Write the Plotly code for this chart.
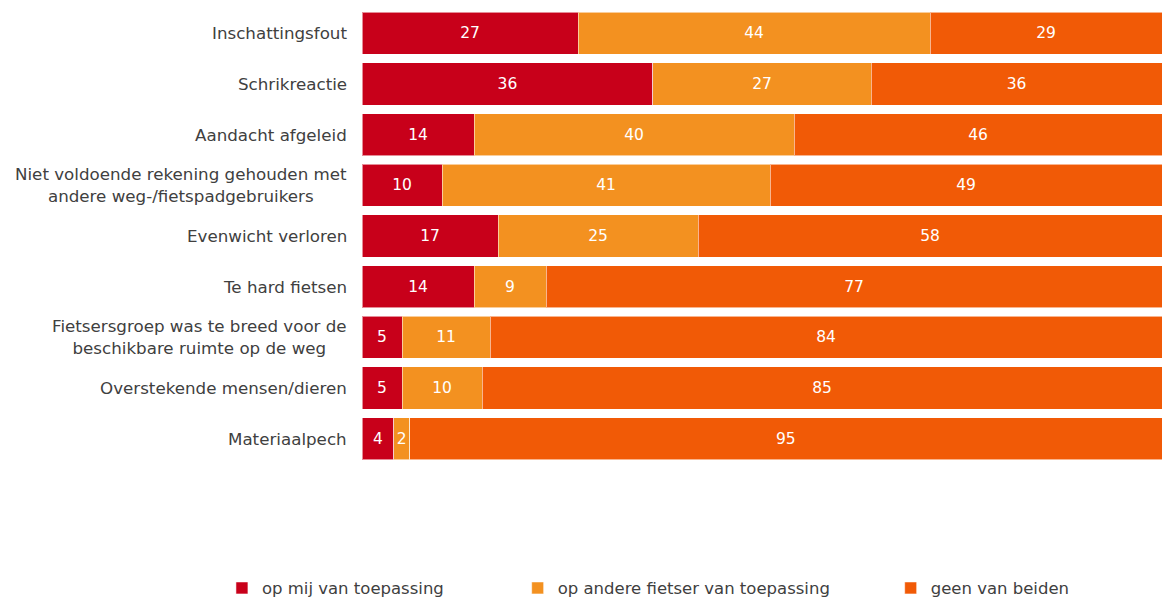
import plotly.graph_objects as go

# Oorzaken van fietsongevallen (percentages per oorzaak)
categories = [
    "Inschattingsfout",
    "Schrikreactie",
    "Aandacht afgeleid",
    "Niet voldoende rekening gehouden met<br>andere weg-/fietspadgebruikers",
    "Evenwicht verloren",
    "Te hard fietsen",
    "Fietsersgroep was te breed voor de<br>beschikbare ruimte op de weg",
    "Overstekende mensen/dieren",
    "Materiaalpech",
]
op_mij = [27, 36, 14, 10, 17, 14, 5, 5, 4]
op_andere = [44, 27, 40, 41, 25, 9, 11, 10, 2]
geen = [29, 36, 46, 49, 58, 77, 84, 85, 95]

series_names = ["op mij van toepassing", "op andere fietser van toepassing", "geen van beiden"]
series_values = [op_mij, op_andere, geen]
colors = ["#C8001A", "#F39120", "#F15A06"]
legend_ids = ["legend", "legend2", "legend3"]
legend_x = [0.191, 0.4455, 0.7665]

FONT = "DejaVu Sans, Verdana, sans-serif"
TEXT_COLOR = "#404040"

fig = go.Figure()
for name, vals, col, lg in zip(series_names, series_values, colors, legend_ids):
    fig.add_trace(go.Bar(
        y=categories,
        x=vals,
        name=name,
        orientation="h",
        marker=dict(color=col, line=dict(color="rgba(255,255,255,0.55)", width=1)),
        text=vals,
        textposition="inside",
        insidetextanchor="middle",
        textangle=0,
        constraintext="none",
        textfont=dict(color="white", size=15.5, family=FONT),
        legend=lg,
        showlegend=True,
        hoverinfo="name+x",
    ))

# Category labels, centred per line and right-aligned against the bars
for cat in categories:
    fig.add_annotation(
        x=0, xref="paper", y=cat, yref="y",
        text=cat, showarrow=False,
        xanchor="right", yanchor="middle", align="center",
        xshift=-13,
        font=dict(family=FONT, size=16.7, color=TEXT_COLOR),
    )

legend_style = dict(
    orientation="h", yanchor="middle", xanchor="left",
    xref="container", yref="container",
    font=dict(family=FONT, size=16.5, color=TEXT_COLOR),
    bgcolor="rgba(0,0,0,0)", itemwidth=30,
)

fig.update_layout(
    showlegend=True,
    barmode="stack",
    barnorm="percent",
    bargap=0.17,
    width=1162, height=599,
    margin=dict(l=362, r=0, t=8, b=135),
    plot_bgcolor="white", paper_bgcolor="white",
    font=dict(family=FONT, size=15, color=TEXT_COLOR),
    uniformtext=dict(minsize=15, mode="show"),
    xaxis=dict(range=[0, 100], visible=False, fixedrange=True),
    yaxis=dict(autorange="reversed", showticklabels=False, showgrid=False,
               zeroline=False, ticks="", fixedrange=True),
    legend=dict(x=legend_x[0], y=0.018, **legend_style),
    legend2=dict(x=legend_x[1], y=0.018, **legend_style),
    legend3=dict(x=legend_x[2], y=0.018, **legend_style),
)

fig.write_html("out.html")
